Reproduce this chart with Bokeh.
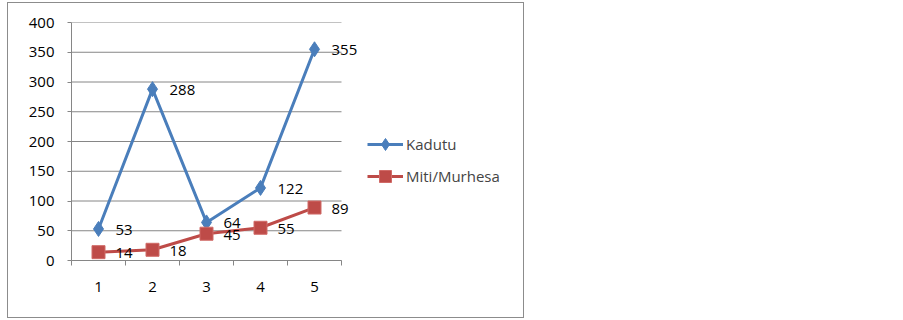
from bokeh.plotting import figure
from bokeh.models import (ColumnDataSource, FixedTicker, Legend, LegendItem,
                          Range1d, LabelSet)
from bokeh.core.properties import value
from bokeh.embed import file_html
from bokeh.resources import INLINE

categories = [1, 2, 3, 4, 5]
kadutu = [53, 288, 64, 122, 355]
miti = [14, 18, 45, 55, 89]
y_ticks = [0, 50, 100, 150, 200, 250, 300, 350, 400]

FONT = "Open Sans"
FS = "15px"
BLUE = "#4A7EBB"
RED = "#BE4B48"
GRID = "#868686"

W, H = 515, 314
FRAME_L, FRAME_T, FRAME_H = 63, 19, 238
PX_PER_CAT = 54
FRAME_W = W - FRAME_L - 2
x_lo = categories[0] - 0.5
x_hi_axis = categories[-1] + 0.5

p = figure(width=W, height=H, output_backend="svg", toolbar_location=None,
           x_range=Range1d(x_lo, x_lo + FRAME_W / PX_PER_CAT),
           y_range=Range1d(y_ticks[0], y_ticks[-1]),
           min_border_left=FRAME_L, min_border_right=2,
           min_border_top=FRAME_T, min_border_bottom=H - FRAME_T - FRAME_H)
p.margin = (3, 0, 0, 8)
p.styles = {"outline": "1px solid #8c8c8c"}
p.outline_line_color = None
p.background_fill_color = "white"
p.border_fill_color = "white"

# horizontal gridlines, limited to the category span
p.segment(x0=[x_lo] * len(y_ticks), x1=[x_hi_axis] * len(y_ticks),
          y0=y_ticks, y1=y_ticks, line_color=GRID, line_width=1)
p.xgrid.grid_line_color = None
p.ygrid.grid_line_color = None

p.xaxis.bounds = (x_lo, x_hi_axis)
p.xaxis.ticker = FixedTicker(ticks=categories,
                             minor_ticks=[c - 0.5 for c in categories] + [x_hi_axis])
p.xaxis.major_tick_out = 0
p.xaxis.major_tick_in = 0
p.xaxis.minor_tick_out = 5
p.xaxis.minor_tick_in = 0
p.xaxis.minor_tick_line_color = GRID
p.xaxis.major_label_standoff = 16
p.yaxis.ticker = FixedTicker(ticks=y_ticks)
p.yaxis.major_tick_out = 4
p.yaxis.major_tick_in = 0
p.yaxis.minor_tick_line_color = None
p.yaxis.major_label_standoff = 13
for ax in (p.xaxis, p.yaxis):
    ax.axis_line_color = GRID
    ax.major_tick_line_color = GRID
    ax.major_label_text_font = FONT
    ax.major_label_text_font_size = FS
    ax.major_label_text_color = "black"

src_k = ColumnDataSource(dict(x=categories, y=kadutu, t=[str(v) for v in kadutu]))
src_m = ColumnDataSource(dict(x=categories, y=miti, t=[str(v) for v in miti]))

lk = p.line("x", "y", source=src_k, line_color=BLUE, line_width=3)
mk = p.scatter("x", "y", source=src_k, marker="diamond", size=15,
               fill_color=BLUE, line_color=BLUE)
lm = p.line("x", "y", source=src_m, line_color=RED, line_width=3)
mm = p.scatter("x", "y", source=src_m, marker="square", size=13,
               fill_color=RED, line_color="#D06A67")

for src in (src_k, src_m):
    p.add_layout(LabelSet(x="x", y="y", text="t", source=src, x_offset=17, y_offset=-1,
                          text_baseline="middle", text_align="left",
                          text_font=value(FONT), text_font_size=value(FS),
                          text_color="black"))

legend = Legend(items=[LegendItem(label="Kadutu", renderers=[lk, mk]),
                       LegendItem(label="Miti/Murhesa", renderers=[lm, mm])],
                location=(296, 69), orientation="vertical",
                background_fill_alpha=0, border_line_color=None,
                label_text_font=FONT, label_text_font_size=FS,
                glyph_width=36, glyph_height=30, label_standoff=3, spacing=2,
                padding=0, margin=0)
p.add_layout(legend, "center")

open("out.html", "w").write(file_html(p, INLINE))
